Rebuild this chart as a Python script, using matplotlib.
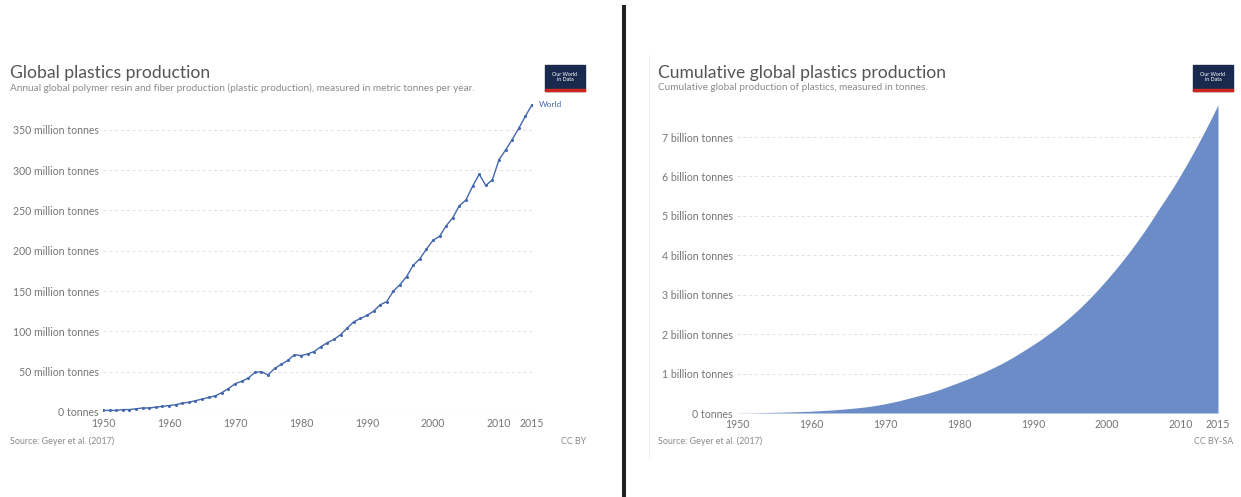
import numpy as np
import matplotlib.pyplot as plt
from matplotlib.patches import Rectangle
from matplotlib.lines import Line2D

plt.rcParams['font.family'] = ['Lato', 'DejaVu Sans']

years = list(range(1950, 2016))

# annual production, million tonnes
production = [2, 2, 2, 3, 3, 4, 5, 5, 6, 7,
              8, 9, 11, 12, 14, 16, 18, 20, 24, 29,
              35, 38, 42, 49, 50, 46, 54, 59, 64, 71,
              70, 72, 75, 81, 86, 90, 96, 104, 112, 116,
              120, 125, 133, 137, 150, 158, 168, 182, 190, 202,
              213, 218, 231, 241, 256, 263, 280, 295, 281, 288,
              313, 325, 338, 352, 367, 381]

# cumulative production, billion tonnes
cumulative = [0.002, 0.004, 0.006, 0.009, 0.012, 0.016, 0.021, 0.026, 0.032, 0.039,
              0.047, 0.056, 0.067, 0.079, 0.093, 0.109, 0.127, 0.147, 0.171, 0.200,
              0.235, 0.273, 0.315, 0.364, 0.414, 0.460, 0.514, 0.573, 0.637, 0.708,
              0.778, 0.850, 0.925, 1.006, 1.092, 1.182, 1.278, 1.382, 1.494, 1.610,
              1.730, 1.855, 1.988, 2.125, 2.275, 2.433, 2.601, 2.783, 2.973, 3.175,
              3.388, 3.606, 3.837, 4.078, 4.334, 4.597, 4.877, 5.172, 5.453, 5.741,
              6.054, 6.379, 6.717, 7.069, 7.436, 7.817]

xticks = [1950, 1960, 1970, 1980, 1990, 2000, 2010, 2015]
left_yticks = [0, 50, 100, 150, 200, 250, 300, 350]
left_ylabels = ["0 tonnes"] + ["%d million tonnes" % v for v in left_yticks[1:]]
right_yticks = [0, 1, 2, 3, 4, 5, 6, 7]
right_ylabels = ["0 tonnes"] + ["%d billion tonnes" % v for v in right_yticks[1:]]

W, H = 1241, 497
fig = plt.figure(figsize=(W / 100, H / 100), dpi=100)

line_col = "#4467ad"
area_col = "#6b8cc6"
tick_col = "#757575"


def px(x0, y_top, w, h):
    # pixel box -> figure fraction
    return [x0 / W, 1 - (y_top + h) / H, w / W, h / H]


def style_axis(ax, yticks, ylabels):
    for s in ax.spines.values():
        s.set_visible(False)
    ax.set_xticks(xticks)
    ax.set_xticklabels([str(t) for t in xticks])
    ax.set_yticks(yticks)
    ax.set_yticklabels(ylabels)
    ax.tick_params(length=0, labelsize=7.6, colors=tick_col)
    ax.tick_params(axis='x', pad=4)
    ax.tick_params(axis='y', pad=3)
    for t in yticks[1:]:
        ax.axhline(t, color="#e0e0e0", lw=0.7, ls=(0, (3, 3)), zorder=0)
    ax.axhline(0, color="#bbbbbb", lw=0.8, zorder=0)


def header(x, title, subtitle, source, licence, logo_x, right_x):
    fig.text(x / W, 1 - 73 / H, title, fontsize=12.6, color="#555555", va="center")
    fig.text(x / W, 1 - 88 / H, subtitle, fontsize=7.2, color="#8a8a8a", va="center")
    fig.text(x / W, 1 - 441 / H, source, fontsize=6.4, color="#8a8a8a", va="center")
    fig.text(right_x / W, 1 - 441 / H, licence, fontsize=6.4, color="#8a8a8a",
             va="center", ha="right")
    fig.add_artist(Rectangle((logo_x / W, 1 - 91 / H), 40 / W, 26 / H,
                             transform=fig.transFigure, color="#1a2a4f"))
    fig.add_artist(Rectangle((logo_x / W, 1 - 91 / H), 40 / W, 2.5 / H,
                             transform=fig.transFigure, color="#ce261e"))
    fig.text((logo_x + 20) / W, 1 - 77 / H, "Our World\nin Data", fontsize=3.8,
             color="white", ha="center", va="center", linespacing=1.1)


# left: annual production
ax1 = fig.add_axes(px(103, 97.6, 429, 314.4))
ax1.plot(years, production, color=line_col, lw=1.0, marker="o", ms=1.2)
ax1.set_xlim(1950, 2015)
ax1.set_ylim(0, 390)
style_axis(ax1, left_yticks, left_ylabels)
ax1.text(years[-1] + 1, production[-1], "World", fontsize=6, color=line_col,
         va="center", clip_on=False)
header(10, "Global plastics production",
       "Annual global polymer resin and fiber production (plastic production), measured in metric tonnes per year.",
       "Source: Geyer et al. (2017)", "CC BY", 545, 586)

# right: cumulative production
ax2 = fig.add_axes(px(737, 97.6, 481, 315.4))
ax2.fill_between(years, cumulative, color=area_col, lw=0)
ax2.set_xlim(1950, 2015)
ax2.set_ylim(0, 8)
style_axis(ax2, right_yticks, right_ylabels)
header(658, "Cumulative global plastics production",
       "Cumulative global production of plastics, measured in tonnes.",
       "Source: Geyer et al. (2017)", "CC BY-SA", 1193, 1233)

# faint frame of right panel and divider
fig.add_artist(Line2D([649 / W, 649 / W], [1 - 55 / H, 1 - 457 / H],
                      transform=fig.transFigure, color="#eeeeee", lw=0.8))
fig.add_artist(Line2D([624 / W, 624 / W], [1 - 7 / H, 0],
                      transform=fig.transFigure, color="#222222", lw=2.9))

fig.savefig("out.png", dpi=100)
